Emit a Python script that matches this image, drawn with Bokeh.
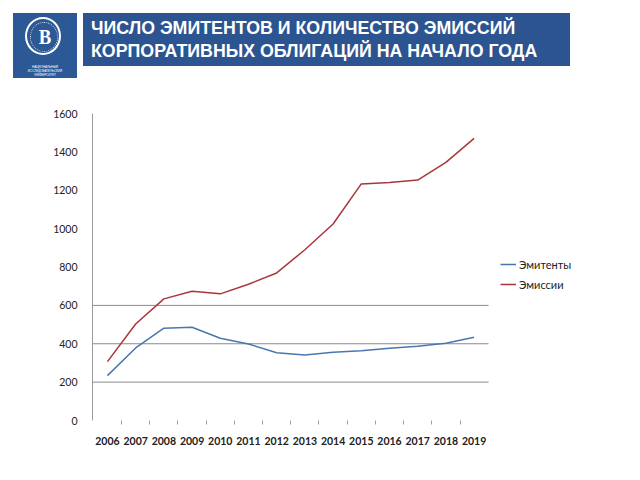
from bokeh.plotting import figure
from bokeh.layouts import column
from bokeh.models import Range1d, FixedTicker, Legend, LegendItem, Div
from bokeh.embed import file_html
from bokeh.resources import INLINE

years = list(range(2006, 2020))
emitters = [234, 378, 481, 486, 429, 399, 353, 342, 356, 363, 377, 387, 403, 434]
issues = [307, 503, 634, 674, 660, 710, 769, 890, 1024, 1233, 1240, 1253, 1345, 1470]
y_ticks = [0, 200, 400, 600, 800, 1000, 1200, 1400, 1600]
grid_ticks = [200, 400, 600]
title_lines = ["ЧИСЛО ЭМИТЕНТОВ И КОЛИЧЕСТВО ЭМИССИЙ",
               "КОРПОРАТИВНЫХ ОБЛИГАЦИЙ НА НАЧАЛО ГОДА"]
series_names = ["Эмитенты", "Эмиссии"]

W = 624
HDR_H = 95

# ---------- header (HTML) ----------
header_html = f"""
<div style="position:relative;width:{W}px;height:{HDR_H}px;font-family:'Liberation Sans',Arial,sans-serif;">
  <div style="position:absolute;left:13px;top:13px;width:64px;height:65px;background:#2d5896;">
    <div style="position:absolute;left:12px;top:4px;width:36px;height:38px;border:2px solid #ffffff;border-radius:50%;"></div>
    <div style="position:absolute;left:17px;top:9px;width:28px;height:30px;border:1.5px dotted rgba(255,255,255,0.8);border-radius:50%;"></div>
    <div style="position:absolute;left:0;top:11px;width:64px;text-align:center;color:#fff;font:bold 22px 'Liberation Serif',serif;line-height:26px;transform:scaleX(0.85);">В</div>
    <div style="position:absolute;left:2px;top:52px;width:60px;text-align:center;color:#fff;font-size:3px;line-height:4px;">НАЦИОНАЛЬНЫЙ ИССЛЕДОВАТЕЛЬСКИЙ<br>УНИВЕРСИТЕТ</div>
  </div>
  <div style="position:absolute;left:83px;top:13px;width:487px;height:53px;background:#2b5490;">
    <div style="position:absolute;left:8px;top:4px;white-space:nowrap;color:#fff;font-weight:bold;font-size:17.8px;line-height:23px;">{title_lines[0]}</div>
    <div style="position:absolute;left:8px;top:27px;white-space:nowrap;color:#fff;font-weight:bold;font-size:17.8px;line-height:23px;">{title_lines[1]}</div>
  </div>
</div>
"""
hdr = Div(text=header_html, width=W, height=HDR_H, margin=0)

# ---------- chart ----------
CH_H = 464 - HDR_H
FRAME_L, FRAME_R_DATA, FRAME_R = 92, 488, 614
X0, X1 = 2005.47, 2019.51
px_per_year = (FRAME_R_DATA - FRAME_L) / (X1 - X0)
x_end = X0 + (FRAME_R - FRAME_L) / px_per_year

p = figure(width=W, height=CH_H, x_range=Range1d(X0, x_end), y_range=Range1d(0, 1600),
           output_backend="svg", toolbar_location=None,
           min_border_left=FRAME_L, min_border_right=W - FRAME_R, min_border_top=113 - HDR_H,
           min_border_bottom=CH_H - (420 - HDR_H))
p.outline_line_color = None
p.xgrid.visible = False
p.ygrid.visible = False

# horizontal gridlines limited to the plot area
p.segment(x0=[X0] * len(grid_ticks), x1=[X1] * len(grid_ticks), y0=grid_ticks, y1=grid_ticks,
          line_color="#8a8a8a", line_width=1)

p.yaxis.ticker = FixedTicker(ticks=y_ticks)
p.yaxis.axis_line_color = "#9a9a9a"
p.yaxis.major_tick_line_color = None
p.yaxis.minor_tick_line_color = None
p.yaxis.major_label_standoff = 9
p.yaxis.major_label_text_font = "Lato"
p.yaxis.major_label_text_font_size = "10.5px"
p.yaxis.major_label_text_color = "#222222"

p.xaxis.ticker = FixedTicker(ticks=years, minor_ticks=[y + 0.5 for y in years[:-1]])
p.xaxis.axis_line_color = None
p.xaxis.major_tick_line_color = None
p.xaxis.minor_tick_line_color = "#a0a0a0"
p.xaxis.minor_tick_in = 0
p.xaxis.minor_tick_out = 4
p.xaxis.major_label_standoff = 10
p.xaxis.major_label_text_font = "Lato"
p.xaxis.major_label_text_font_size = "10.5px"
p.xaxis.major_label_text_font_style = "bold"
p.xaxis.major_label_text_color = "#222222"

r1 = p.line(years, emitters, line_color="#4a76b0", line_width=1.5)
r2 = p.line(years, issues, line_color="#a8363b", line_width=1.5)

legend = Legend(items=[LegendItem(label=series_names[0], renderers=[r1]),
                       LegendItem(label=series_names[1], renderers=[r2])],
                location=(500 - FRAME_L, 420 - 294), padding=0, margin=0, spacing=0,
                glyph_width=16, glyph_height=20, label_height=20, label_standoff=3,
                border_line_color=None, background_fill_alpha=0,
                label_text_font="Lato", label_text_font_size="11px",
                label_text_color="#222222")
p.add_layout(legend)

layout = column(hdr, p, spacing=0)
open("out.html", "w").write(file_html(layout, INLINE))
